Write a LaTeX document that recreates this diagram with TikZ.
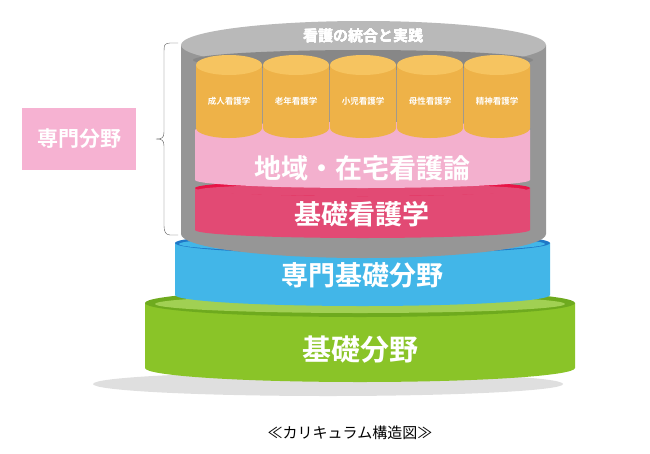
\documentclass[tikz,border=0pt]{standalone}
\usepackage{fontspec}
\setmainfont{Noto Sans CJK JP}
\newfontfamily\jpbold{Noto Sans CJK JP Bold}
\usetikzlibrary{decorations.pathreplacing}
\definecolor{grayside}{RGB}{150,150,150}
\definecolor{graytop}{RGB}{185,185,185}
\definecolor{orangeside}{RGB}{238,178,72}
\definecolor{orangetop}{RGB}{246,196,96}
\definecolor{pinkside}{RGB}{243,176,206}
\definecolor{redside}{RGB}{226,74,116}
\definecolor{redtop}{RGB}{232,20,70}
\definecolor{blueside}{RGB}{66,182,232}
\definecolor{bluetop}{RGB}{30,120,200}
\definecolor{greenside}{RGB}{138,196,40}
\definecolor{greentop}{RGB}{110,170,30}
\definecolor{boxpink}{RGB}{246,178,210}
% cylinder: x-left, x-right, y-top, y-bottom, ry, side colour, top colour
\newcommand{\cylinder}[7]{%
  \fill[#6] (#1,#3) -- (#1,#4) arc[start angle=180,end angle=0,x radius={(#2-#1)/2},y radius=#5]
    -- (#2,#3) -- cycle;
  \fill[#7] ({(#1+#2)/2},#3) ellipse[x radius={(#2-#1)/2},y radius=#5];
}
\tikzset{
  label big/.style={text=white,font=\jpbold\fontsize{27}{27}\selectfont},
  label small/.style={text=white,font=\jpbold\fontsize{8.5}{8.5}\selectfont},
}
\begin{document}
\begin{tikzpicture}[x=1pt,y=-1pt]
\useasboundingbox (0,0) rectangle (650,453);
%shadow
\fill[gray!25] (328,384) ellipse[x radius=235,y radius=12];
%base layers
\cylinder{145}{575}{303}{368}{14}{greenside}{greentop}
\fill[greenside!80!white] (360,304) ellipse[x radius=205,y radius=9];
\cylinder{175}{550}{243}{295}{11}{blueside}{bluetop}
\fill[blueside] (362,244) ellipse[x radius=183,y radius=8];
%gray shell
\cylinder{181}{546}{45}{234}{24}{grayside}{graytop}
\fill[grayside!90!black] (363,60) ellipse[x radius=170,y radius=10];
\cylinder{195}{530}{188}{230}{8}{redside}{redtop}
\fill[redside] (362,190) ellipse[x radius=164,y radius=6];
\cylinder{195}{530}{130}{180}{8}{pinkside}{pinkside}
%orange columns
\foreach \xa in {196,263,330,397,464}
  \cylinder{\xa}{\xa+66}{65}{128}{10}{orangeside}{orangetop}
%labels
\node[text=white,font=\jpbold\fontsize{15}{15}\selectfont] (top) at (363,36) {看護の統合と実践};
\foreach \xa/\t [count=\i] in {229/成人看護学,296/老年看護学,363/小児看護学,430/母性看護学,497/精神看護学}
  \node[label small] (col\i) at (\xa,101) {\t};
\node[label big] (region) at (362,168) {地域・在宅看護論};
\node[label big] (basicnurse) at (362,214) {基礎看護学};
\node[label big] (probasic) at (362,275) {専門基礎分野};
\node[label big,font=\jpbold\fontsize{29}{29}\selectfont] (basic) at (360,350) {基礎分野};
%bracket
\draw[gray!70!black,thin] (178,43) -- (170,43) .. controls (164,43) and (164,46) .. (164,52)
  -- (164,132) .. controls (164,138) and (162,139) .. (156,139)
  .. controls (162,139) and (164,140) .. (164,146) -- (164,226)
  .. controls (164,232) and (166,235) .. (170,235) -- (178,235);
\node[fill=boxpink,minimum width=114pt,minimum height=62pt,text=white,
  font=\jpbold\fontsize{21}{21}\selectfont] (pro) at (79,139) {専門分野};
%caption
\node[font=\fontsize{15}{15}\selectfont] (caption) at (350,433) {≪カリキュラム構造図≫};
\end{tikzpicture}
\end{document}
